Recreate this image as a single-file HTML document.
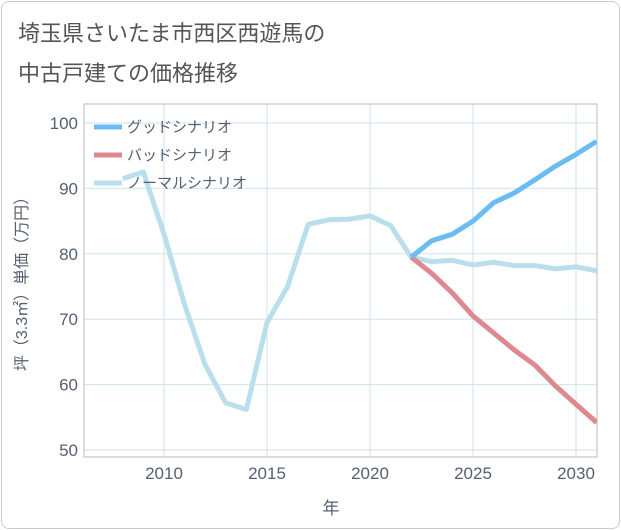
<!DOCTYPE html>
<html><head><meta charset="utf-8"><style>
body{margin:0;background:#fff;font-family:"Liberation Sans","Noto Sans CJK JP",sans-serif}
#card{position:absolute;left:1px;top:1px;width:617px;height:526px;border:1px solid #ccc;border-radius:8px;background:#fff}
.t{position:absolute;left:18px;font-size:22px;color:#555}
</style></head><body>
<div id="card"></div>
<div class="t" style="top:16px">埼玉県さいたま市西区西遊馬の</div>
<div class="t" style="top:56px">中古戸建ての価格推移</div>
<svg id="c" width="621" height="530" style="position:absolute;left:0;top:0"></svg>
<script>
const years=[2008,2009,2010,2011,2012,2013,2014,2015,2016,2017,2018,2019,2020,2021,2022,2023,2024,2025,2026,2027,2028,2029,2030,2031];
const normal=[91.5,92.5,83,72.2,63,57.2,56.2,69.5,75,84.5,85.2,85.3,85.8,84.3,79.5,78.8,79,78.3,78.7,78.2,78.2,77.7,78,77.4];
const goodYears=[2022,2023,2024,2025,2026,2027,2028,2029,2030,2031];
const good=[79.5,82,83,85,87.8,89.3,91.3,93.4,95.2,97.2];
const bad=[79.5,77,74,70.5,67.9,65.3,63,59.8,57,54.2];
const xTicks=[2010,2015,2020,2025,2030];
const yTicks=[50,60,70,80,90,100];
const L=84,R=597,T=104,B=457;
const x=y=>164+(y-2010)*20.6;
const yy=v=>123+(100-v)*6.54;
const s=document.getElementById('c');const NS='http://www.w3.org/2000/svg';
function el(t,a,p){const e=document.createElementNS(NS,t);for(const k in a)e.setAttribute(k,a[k]);(p||s).appendChild(e);return e;}
const defs=el('clipPath',{id:'clip'});el('rect',{x:L,y:T,width:R-L,height:B-T},defs);
for(const v of yTicks){const g=el('line',{x1:L,x2:R,y1:yy(v),y2:yy(v),stroke:'#cfe2ef','stroke-width':1});

const t=el('text',{x:L-6,y:yy(v)+6,'text-anchor':'end','font-size':17,fill:'#556070'});t.textContent=v;
}
for(const v of xTicks){const g=el('line',{x1:x(v),x2:x(v),y1:T,y2:B,stroke:'#cfe2ef','stroke-width':1});

const t=el('text',{x:x(v),y:B+22,'text-anchor':'middle','font-size':17,fill:'#556070'});t.textContent=v;
}
const fr=el('rect',{x:L,y:T,width:R-L,height:B-T,fill:'none',stroke:'#bbb','stroke-width':1});

function line(xs,vs,col,name){const p=el('polyline',{points:xs.map((a,i)=>x(a)+','+yy(vs[i])).join(' '),fill:'none',stroke:col,'stroke-width':5,'stroke-linejoin':'round','clip-path':'url(#clip)'});
}
line(years,normal,'#b9dfec','normal-scenario-line');
line(goodYears,bad,'#de8890','bad-scenario-line');
line(goodYears,good,'#6bbcf0','good-scenario-line');
const leg=[['グッドシナリオ','#6bbcf0',127],['バッドシナリオ','#de8890',155],['ノーマルシナリオ','#b9dfec',183]];
for(const [n,c,y] of leg){const l=el('line',{x1:94,x2:122,y1:y,y2:y,stroke:c,'stroke-width':5});

const t=el('text',{x:127,y:y+5,'font-size':15,fill:'#556070'});t.textContent=n;
}
const xt=el('text',{x:331,y:514,'text-anchor':'middle','font-size':17,fill:'#556070'});xt.textContent='年';

const yt=el('text',{x:0,y:0,transform:'translate(27,280) rotate(-90)','text-anchor':'middle','font-size':16,fill:'#556070'});yt.textContent='坪（3.3㎡）単価（万円）';

</script>
</body></html>
